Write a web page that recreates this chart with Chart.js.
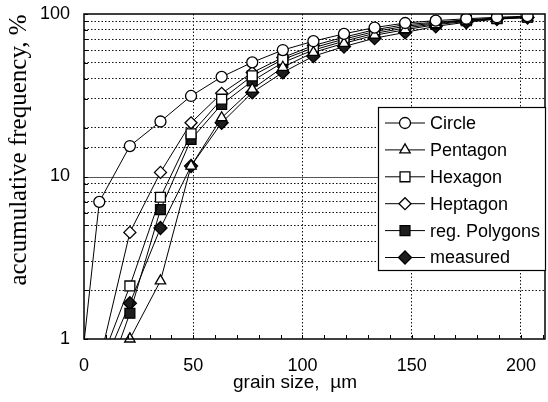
<!DOCTYPE html>
<html>
<head>
<meta charset="utf-8">
<script src="https://cdn.jsdelivr.net/npm/chart.js@4/dist/chart.umd.min.js"></script>
<style>
  html, body { margin: 0; padding: 0; background: #fff; }
  canvas { display: block; }
</style>
</head>
<body>
<canvas id="myChart" width="548" height="402"></canvas>
<script>
// grain size classes (µm)
const grainSize = [0, 7, 21, 35, 49, 63, 77, 91, 105, 119, 133, 147, 161, 175, 189, 203];

// accumulative frequency, %  (values below 1 fall off the bottom of the log axis)
const circle    = [0.95, 6.98, 15.4, 21.8, 31.3, 41.0, 50.4, 60.0, 68.0, 75.5, 82.5, 88.0, 91.0, 93.5, 95.5, 97.0];
const pentagon  = [null, 0.50, 1.00, 2.28, 11.6, 23.0, 34.5, 47.0, 58.0, 66.0, 74.0, 80.0, 86.0, 90.0, 93.5, 95.5];
const hexagon   = [null, 0.68, 2.12, 7.45, 18.3, 29.9, 41.6, 52.5, 62.0, 70.0, 78.0, 84.0, 88.0, 91.5, 94.0, 96.0];
const heptagon  = [null, 0.72, 4.53, 10.6, 21.4, 32.5, 43.6, 54.0, 64.0, 72.0, 80.0, 86.0, 89.0, 92.0, 94.5, 96.0];
const regPolys  = [null, 0.43, 1.44, 6.26, 16.9, 27.8, 38.7, 50.3, 60.0, 68.0, 76.0, 82.0, 87.0, 91.0, 93.5, 95.5];
const measured  = [null, 0.60, 1.66, 4.82, 11.6, 21.4, 32.9, 43.7, 55.0, 63.0, 71.0, 77.0, 84.0, 89.0, 93.0, 95.0];

const seriesNames = ['Circle', 'Pentagon', 'Hexagon', 'Heptagon', 'reg. Polygons', 'measured'];
const seriesValues = [circle, pentagon, hexagon, heptagon, regPolys, measured];

const yLabels = [1, 10, 100];
const xLabelStep = 50;

const markers = [
    { style: 'circle',   r: 5.5, fill: '#ffffff' },
    { style: 'triangle', r: 6,   fill: '#ffffff' },
    { style: 'rect',     r: 7,   fill: '#ffffff' },
    { style: 'rectRot',  r: 6,   fill: '#ffffff' },
    { style: 'rect',     r: 7,   fill: '#1e1e1e' },
    { style: 'rectRot',  r: 6.5, fill: '#1e1e1e' }
];

const sans = "'Liberation Sans', Arial, sans-serif";
const serif = "'Liberation Serif', 'Times New Roman', serif";

const datasets = seriesValues.map((vals, i) => {
    const m = markers[i];
    return {
        label: seriesNames[i],
        data: grainSize.map((x, k) => ({ x: x, y: vals[k] })).filter(p => p.y !== null),
        showLine: true,
        borderColor: '#000',
        borderWidth: 1,
        pointStyle: m.style,
        pointBackgroundColor: m.fill,
        pointBorderColor: '#000',
        pointBorderWidth: 1.3,
        pointRadius: ctx => (ctx.raw && ctx.raw.y < 1) ? 0 : m.r,
        pointHoverRadius: ctx => (ctx.raw && ctx.raw.y < 1) ? 0 : m.r
    };
});

const noPad = s => { s.paddingTop = 0; s.paddingBottom = 0; s.paddingLeft = 0; s.paddingRight = 0; };

// frame, inner ticks, solid 10-line, titles and the boxed legend
const decorations = {
    id: 'decorations',
    beforeDatasetsDraw(chart) {
        const { ctx, chartArea: a, scales: { y } } = chart;
        const py = Math.round(y.getPixelForValue(10)) + 0.5;
        ctx.save();
        ctx.strokeStyle = '#555';
        ctx.lineWidth = 1;
        ctx.beginPath();
        ctx.moveTo(a.left, py);
        ctx.lineTo(a.right, py);
        ctx.stroke();
        ctx.restore();
    },
    afterDatasetsDraw(chart) {
        // points sitting right on the lower axis limit are not clipped in the original
        const ctx = chart.ctx;
        chart.data.datasets.forEach((ds, i) => {
            chart.getDatasetMeta(i).data.forEach((el, k) => {
                const v = ds.data[k].y;
                if (v >= 1 && v < 1.05) el.draw(ctx);
            });
        });
    },
    afterDraw(chart) {
        const { ctx, chartArea: a, scales: { x, y } } = chart;
        ctx.save();
        ctx.strokeStyle = '#000';

        // inner ticks
        ctx.lineWidth = 1;
        ctx.beginPath();
        x.ticks.forEach(t => {
            const px = Math.round(x.getPixelForValue(t.value)) + 0.5;
            ctx.moveTo(px, a.bottom);
            ctx.lineTo(px, a.bottom - 4);
        });
        y.ticks.forEach(t => {
            const py = Math.round(y.getPixelForValue(t.value)) + 0.5;
            ctx.moveTo(a.left, py);
            ctx.lineTo(a.left + 4, py);
        });
        ctx.stroke();

        // plot frame
        ctx.lineWidth = 1.5;
        ctx.strokeRect(a.left, a.top, a.right - a.left, a.bottom - a.top);

        // axis titles
        ctx.fillStyle = '#000';
        ctx.font = '19px ' + sans;
        ctx.textAlign = 'center';
        ctx.textBaseline = 'middle';
        ctx.fillText('grain size,  \u00b5m', 295, 383);

        ctx.save();
        ctx.translate(19, 150);
        ctx.rotate(-Math.PI / 2);
        ctx.font = '25px ' + serif;
        ctx.fillText('accumulative frequency, %', 0, 0);
        ctx.restore();

        // legend box
        const bx = 378, by = 107, bw = a.right - bx, bh = 163;
        ctx.fillStyle = '#fff';
        ctx.fillRect(bx, by, bw, bh);
        ctx.lineWidth = 1.2;
        ctx.strokeRect(bx + 0.5, by + 0.5, bw, bh);

        ctx.font = '18px ' + sans;
        ctx.textAlign = 'left';
        seriesNames.forEach((name, i) => {
            const ly = by + 16 + i * 26.9;
            ctx.strokeStyle = '#000';
            ctx.lineWidth = 1;
            ctx.beginPath();
            ctx.moveTo(385, ly);
            ctx.lineTo(425, ly);
            ctx.stroke();
            const m = markers[i];
            ctx.fillStyle = m.fill;
            ctx.lineWidth = 1.3;
            Chart.helpers.drawPoint(ctx, { pointStyle: m.style, radius: m.r, rotation: 0, borderWidth: 1.3 }, 405, ly);
            ctx.fillStyle = '#000';
            ctx.fillText(name, 430, ly + 1);
        });
        ctx.restore();
    }
};

const config = {
    type: 'scatter',
    data: { datasets: datasets },
    options: {
        responsive: false,
        animation: false,
        devicePixelRatio: 1,
        layout: { autoPadding: false, padding: { top: 14, right: 3, left: 0, bottom: 0 } },
        plugins: {
            legend: { display: false },
            tooltip: { enabled: false }
        },
        scales: {
            x: {
                type: 'linear',
                min: 0,
                max: 211,
                afterFit: s => { s.height = 63; noPad(s); },
                border: { display: false, dash: [1.5, 2] },
                grid: {
                    drawTicks: false,
                    lineWidth: 1,
                    color: ctx => (ctx.tick && ctx.tick.value % xLabelStep === 0 && ctx.tick.value > 0) ? '#111' : 'rgba(0,0,0,0)'
                },
                ticks: {
                    stepSize: 10,
                    includeBounds: false,
                    autoSkip: false,
                    maxRotation: 0,
                    padding: 16,
                    color: '#000',
                    font: { size: 18, family: sans },
                    callback: v => (v % xLabelStep === 0) ? String(v) : ''
                }
            },
            y: {
                type: 'logarithmic',
                min: 1,
                max: 100,
                afterFit: s => { s.width = 84; noPad(s); },
                border: { display: false, dash: [1.5, 2] },
                grid: {
                    drawTicks: false,
                    lineWidth: 1,
                    color: ctx => (ctx.tick && yLabels.includes(ctx.tick.value)) ? 'rgba(0,0,0,0)' : '#111'
                },
                ticks: {
                    autoSkip: false,
                    padding: 14,
                    color: '#000',
                    font: { size: 18, family: sans },
                    callback: v => yLabels.includes(v) ? String(v) : ''
                }
            }
        }
    },
    plugins: [decorations]
};

const myChart = new Chart(document.getElementById('myChart'), config);
</script>
</body>
</html>
